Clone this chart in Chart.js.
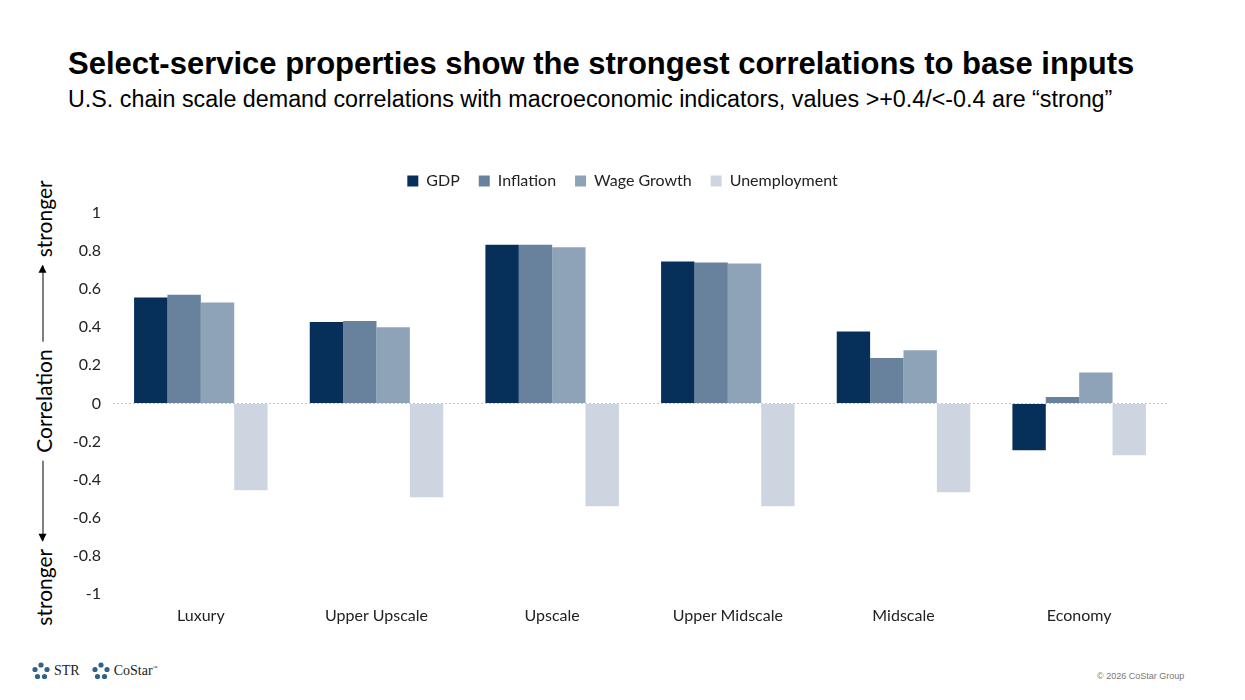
<!DOCTYPE html>
<html>
<head>
<meta charset="utf-8">
<script src="https://cdn.jsdelivr.net/npm/chart.js@4.4.1/dist/chart.umd.min.js"></script>
<style>
    body { margin: 0; width: 1245px; height: 700px; background: #fff; position: relative; overflow: hidden; font-family: "Liberation Sans", Arial, sans-serif; }
    .title { position: absolute; left: 68px; top: 46px; font-size: 31px; font-weight: bold; color: #000; white-space: nowrap; }
    .subtitle { position: absolute; left: 68px; top: 86px; font-size: 23.3px; color: #000; white-space: nowrap; }
    .chart-box { position: absolute; left: 60px; top: 154px; width: 1120px; height: 486px; }
    .axis-title { position: absolute; left: 43px; top: 403px; transform: translate(-50%, -50%) rotate(-90deg);
        display: flex; align-items: center; font-family: Lato, "Open Sans", sans-serif; font-size: 21px; color: #000; white-space: nowrap; }
    .arrow { position: relative; height: 1px; background: #000; margin: 0 8px; }
    .arrow.left { width: 80px; }
    .arrow.right { width: 76px; }
    .arrow.left::before { content: ""; position: absolute; left: -1px; top: -4px; border-right: 8px solid #000; border-top: 4.5px solid transparent; border-bottom: 4.5px solid transparent; }
    .arrow.right::after { content: ""; position: absolute; right: -1px; top: -4px; border-left: 8px solid #000; border-top: 4.5px solid transparent; border-bottom: 4.5px solid transparent; }
    .footer { position: absolute; left: 32px; top: 662px; display: flex; align-items: center; font-family: "Liberation Serif", serif; font-size: 14px; color: #222; }
    .footer svg { margin-right: 4px; }
    .footer span { margin-right: 12px; }
    .copy { position: absolute; left: 1097px; top: 671px; font-size: 9px; color: #777; }
</style>
</head>
<body>
<div class="title">Select-service properties show the strongest correlations to base inputs</div>
<div class="subtitle">U.S. chain scale demand correlations with macroeconomic indicators, values &gt;+0.4/&lt;-0.4 are “strong”</div>
<div class="axis-title"><span>stronger</span><span class="arrow left"></span><span>Correlation</span><span class="arrow right"></span><span>stronger</span></div>
<div class="chart-box"><canvas id="corr-chart"></canvas></div>
<div class="footer">
    <svg width="18" height="18" viewBox="0 0 18 18"><g fill="#2f6189"><circle cx="9" cy="3" r="2.6"/><circle cx="15" cy="7.5" r="2.6"/><circle cx="12.5" cy="14.5" r="2.6"/><circle cx="5.5" cy="14.5" r="2.6"/><circle cx="3" cy="7.5" r="2.6"/></g></svg><span>STR</span>
    <svg width="18" height="18" viewBox="0 0 18 18"><g fill="#2f6189"><circle cx="9" cy="3" r="2.6"/><circle cx="15" cy="7.5" r="2.6"/><circle cx="12.5" cy="14.5" r="2.6"/><circle cx="5.5" cy="14.5" r="2.6"/><circle cx="3" cy="7.5" r="2.6"/></g></svg><span>CoStar<sup style="font-size:5px">™</sup></span>
</div>
<div class="copy">© 2026 CoStar Group</div>
<script>
const categories = ["Luxury", "Upper Upscale", "Upscale", "Upper Midscale", "Midscale", "Economy"];
const gdp = [0.556, 0.428, 0.833, 0.745, 0.377, -0.246];
const inflation = [0.57, 0.433, 0.833, 0.74, 0.238, 0.033];
const wage_growth = [0.53, 0.40, 0.82, 0.735, 0.279, 0.162];
const unemployment = [-0.456, -0.493, -0.54, -0.54, -0.467, -0.272];
const y_ticks = [1, 0.8, 0.6, 0.4, 0.2, 0, -0.2, -0.4, -0.6, -0.8, -1];

window.addEventListener("load", () => {
    renderChart();
});

function renderChart() {
    const chart_ctx = document.getElementById("corr-chart");
    const tick_font = { family: "Lato, 'Open Sans', sans-serif", size: 16 };

    new Chart(chart_ctx, {
        type: "bar",
        data: {
            labels: categories,
            datasets: [
                { label: "GDP", data: gdp, backgroundColor: "#06305a" },
                { label: "Inflation", data: inflation, backgroundColor: "#68829e" },
                { label: "Wage Growth", data: wage_growth, backgroundColor: "#8ea3b7" },
                { label: "Unemployment", data: unemployment, backgroundColor: "#cdd6e0" }
            ]
        },
        options: {
            responsive: true,
            maintainAspectRatio: false,
            animation: false,
            layout: { padding: { top: 0, right: 13, bottom: 11, left: 0 } },
            datasets: { bar: { categoryPercentage: 0.76, barPercentage: 1 } },
            plugins: {
                legend: {
                    position: "top",
                    labels: { boxWidth: 11, boxHeight: 11, font: tick_font, color: "#222", padding: 19 }
                },
                tooltip: { enabled: false }
            },
            scales: {
                x: {
                    grid: { display: false },
                    border: { display: false },
                    ticks: { font: tick_font, color: "#222", padding: 4 }
                },
                y: {
                    min: -1,
                    max: 1,
                    afterBuildTicks: (scale) => { scale.ticks = y_ticks.map((v) => { return { value: v } }); },
                    afterFit: (scale) => { scale.width = 53; },
                    grid: {
                        color: (ctx) => { return ctx.tick && ctx.tick.value === 0 ? "#c8c8c8" : "transparent" },
                        drawTicks: false
                    },
                    border: { display: false, dash: [2, 2] },
                    ticks: {
                        font: tick_font, color: "#222", padding: 12,
                        callback: (value) => { return String(Math.round(value * 10) / 10) }
                    }
                }
            }
        },
        plugins: [{
            id: "legendGap",
            beforeInit(chart) {
                const fit = chart.legend.fit;
                chart.legend.fit = function () {
                    fit.bind(chart.legend)();
                    this.height += 14;
                };
            },
            afterLayout(chart) {
                // legend sits a bit right of centre in the original
                chart.legend.left += 9;
                chart.legend.right += 9;
            }
        }]
    });
}
</script>
</body>
</html>
